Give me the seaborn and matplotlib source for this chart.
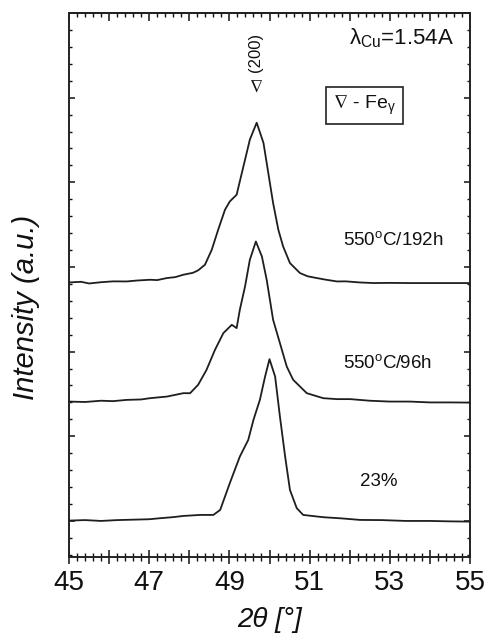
import numpy as np
import pandas as pd
import matplotlib
matplotlib.use("Agg")
import matplotlib.pyplot as plt
from matplotlib.ticker import MultipleLocator, FuncFormatter, NullFormatter
import seaborn as sns

# ---- data (2theta in degrees, intensity in a.u.) ----
tt_192h = [45.0, 45.3, 45.5, 45.8, 46.1, 46.44, 46.7, 47.02, 47.2, 47.44, 47.65, 47.85,
           48.09, 48.22, 48.39, 48.56, 48.72, 48.89, 49.01, 49.18, 49.26, 49.39, 49.51,
           49.68, 49.85, 49.97, 50.09, 50.22, 50.34, 50.51, 50.76, 50.95, 51.18, 51.4,
           51.68, 51.9, 52.26, 52.6, 53.0, 53.5, 54.0, 54.5, 55.0]
int_192h = [38.17, 38.25, 38.05, 38.2, 38.3, 38.29, 38.4, 38.49, 38.45, 38.69, 38.8, 39.08,
            39.31, 39.6, 40.26, 42.03, 44.40, 46.76, 47.74, 48.53, 50.11, 52.67, 55.04,
            57.04, 54.65, 51.10, 47.55, 44.40, 42.42, 40.46, 39.28, 38.9, 38.69, 38.5,
            38.29, 38.3, 38.17, 38.1, 38.12, 38.1, 38.1, 38.1, 38.10]

tt_96h = [45.0, 45.4, 45.8, 46.1, 46.44, 46.8, 47.02, 47.44, 47.85, 48.02, 48.22, 48.43,
          48.64, 48.85, 49.06, 49.18, 49.26, 49.39, 49.51, 49.66, 49.81, 49.93, 50.09,
          50.26, 50.43, 50.59, 50.93, 51.34, 51.68, 52.01, 52.5, 53.0, 53.5, 54.0, 54.5, 55.0]
int_96h = [24.10, 24.05, 24.2, 24.15, 24.30, 24.35, 24.50, 24.69, 25.09, 25.09, 26.08, 27.85,
           30.21, 32.19, 33.17, 32.78, 34.94, 37.70, 40.85, 43.01, 41.24, 38.49, 33.76,
           31.00, 28.24, 26.67, 25.09, 24.50, 24.39, 24.39, 24.2, 24.1, 24.1, 24.0, 24.0, 23.98]

tt_23 = [45.0, 45.4, 45.8, 46.2, 46.6, 47.0, 47.27, 47.6, 47.85, 48.27, 48.6, 48.77, 49.01,
         49.26, 49.47, 49.60, 49.76, 49.89, 50.00, 50.14, 50.26, 50.39, 50.51, 50.68, 50.84,
         51.34, 51.8, 52.26, 52.8, 53.4, 54.0, 54.5, 55.0]
int_23 = [10.04, 10.1, 10.0, 10.1, 10.15, 10.2, 10.32, 10.45, 10.59, 10.71, 10.71, 11.30, 14.46,
          17.60, 19.57, 21.94, 24.30, 27.06, 29.11, 27.06, 22.33, 17.60, 13.66, 11.50, 10.71,
          10.44, 10.3, 10.12, 10.1, 10.0, 10.0, 9.95, 9.92]

series_labels = ["550$^{\\rm o}$C/192h", "550$^{\\rm o}$C/96h", "23%"]
xtick_labels = ["45", "47", "49", "51", "53", "55"]

# ---- style ----
sns.set_theme(style="ticks")
plt.rcParams["font.family"] = ["Liberation Sans", "DejaVu Sans"]
plt.rcParams["mathtext.fontset"] = "custom"
plt.rcParams["mathtext.rm"] = "Liberation Sans"
plt.rcParams["mathtext.it"] = "Liberation Sans:italic"
plt.rcParams["mathtext.bf"] = "Liberation Sans:bold"
plt.rcParams["mathtext.default"] = "regular"

fig = plt.figure(figsize=(4.94, 6.39), dpi=100)
ax = fig.add_axes([69 / 494, 1 - 557 / 639, 401 / 494, 544 / 639])

line_color = "#1e1e1e"
for tt, inten in [(tt_192h, int_192h), (tt_96h, int_96h), (tt_23, int_23)]:
    df = pd.DataFrame({"two_theta": tt, "intensity": inten})
    sns.lineplot(data=df, x="two_theta", y="intensity", ax=ax, color=line_color,
                 linewidth=1.3, estimator=None, sort=False)

ax.set_xlim(45, 55)
ax.set_ylim(5.74, 70)

for s in ax.spines.values():
    s.set_linewidth(1.4)
    s.set_color("#222222")

# x ticks: major every 1 (labels on odd values), minor every 0.2
ax.xaxis.set_major_locator(MultipleLocator(1))
ax.xaxis.set_minor_locator(MultipleLocator(0.2))
ax.xaxis.set_major_formatter(FuncFormatter(
    lambda v, p: (str(int(round(v))) if str(int(round(v))) in xtick_labels else "")))
ax.tick_params(axis="x", which="major", direction="inout", length=10, width=1.1,
               labelsize=20, pad=4, top=False, colors="#111111")
ax.tick_params(axis="x", which="minor", direction="inout", length=6, width=1.0, top=False,
               colors="#111111")

# y ticks: no labels
ax.yaxis.set_major_locator(MultipleLocator(10))
ax.yaxis.set_minor_locator(MultipleLocator(2))
ax.yaxis.set_major_formatter(NullFormatter())
ax.tick_params(axis="y", which="major", direction="in", length=4.5, width=1.1,
               left=True, right=True, colors="#111111")
ax.tick_params(axis="y", which="minor", direction="in", length=2.4, width=1.0,
               left=True, right=True, colors="#111111")

# top ticks pointing inward
sec = ax.secondary_xaxis("top")
sec.xaxis.set_major_locator(MultipleLocator(1))
sec.xaxis.set_minor_locator(MultipleLocator(0.2))
sec.tick_params(axis="x", which="major", direction="in", length=6, width=1.1,
                labeltop=False, colors="#111111")
sec.tick_params(axis="x", which="minor", direction="in", length=3, width=1.0,
                colors="#111111")
sec.spines["top"].set_linewidth(1.4)

ax.set_xlabel("2θ [°]", fontsize=20, fontstyle="italic", labelpad=8, color="#111111")
ax.set_ylabel("Intensity (a.u.)", fontsize=21, fontstyle="italic", color="#111111")
ax.yaxis.set_label_coords(-0.072, 0.458)

# annotations
ax.text(54.6, 67.0, "λ$_{\\rm Cu}$=1.54A", fontsize=16, ha="right", va="center",
        color="#111111")
ax.text(49.66, 65.4, "(200)", fontsize=12, rotation=90, ha="center", va="center",
        color="#111111")
ax.text(49.66, 61.2, "$\\nabla$", fontsize=13, ha="center", va="center", color="#111111")
ax.text(52.37, 59.1, "$\\nabla$ - Fe$_{\\rm γ}$", fontsize=14, ha="center", va="center",
        color="#111111",
        bbox=dict(boxstyle="square,pad=0.35", facecolor="white", edgecolor="#222222",
                  linewidth=1.2))
ax.text(53.08, 43.2, series_labels[0], fontsize=13.5, ha="center", va="center",
        color="#111111")
ax.text(52.94, 28.7, series_labels[1], fontsize=13.5, ha="center", va="center",
        color="#111111")
ax.text(52.72, 14.6, series_labels[2], fontsize=13.5, ha="center", va="center",
        color="#111111")

fig.savefig("out.png", dpi=100)
